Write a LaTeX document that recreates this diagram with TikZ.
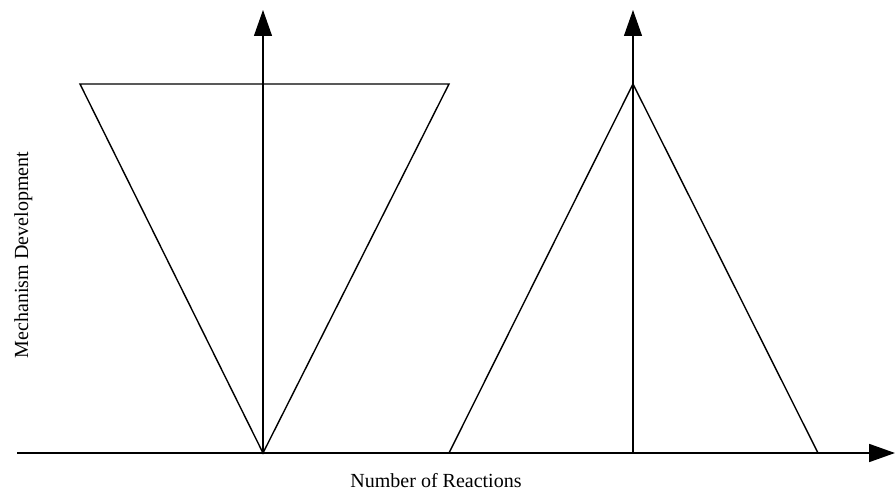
\documentclass[tikz,border=0pt]{standalone}
\usepackage{fontspec}
\setmainfont{Liberation Serif}
\usetikzlibrary{arrows.meta}

\begin{document}
\begin{tikzpicture}[x=1pt, y=-1pt, line width=1.4pt,
  axisarrow/.style={-{Triangle[length=26pt, width=18pt]}},
  every node/.style={font=\fontsize{20}{24}\selectfont, inner sep=0pt}]
  \useasboundingbox (0,0) rectangle (895,494);
  % axes
  \coordinate (o1) at (263,453);
  \coordinate (o2) at (633,453);
  \draw[axisarrow, line width=1.8pt] (17,453) -- (895,453);
  \draw[axisarrow, line width=1.1pt] (o1) -- (263,10);
  \draw[axisarrow, line width=1.1pt] (o2) -- (633,10);
  % inverted and upright triangles
  \draw (80,84) -- (449,84) -- (o1) -- cycle;
  \draw (449,453) -- (633,84) -- (818,453);
  \node[anchor=base] (xlabel) at (436,487) {Number of Reactions};
  \node[rotate=90, anchor=base] (ylabel) at (28,255) {Mechanism Development};
\end{tikzpicture}
\end{document}
